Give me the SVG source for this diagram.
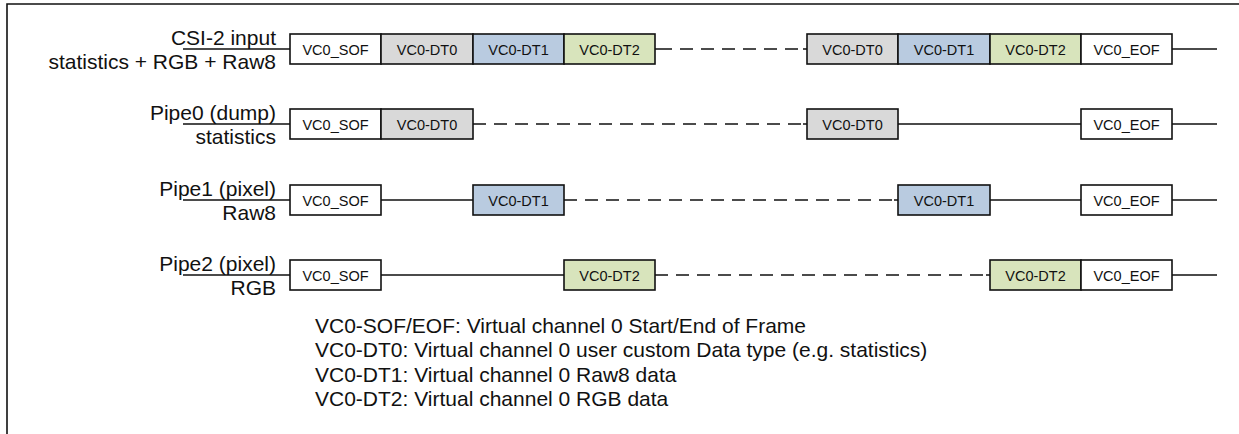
<svg xmlns="http://www.w3.org/2000/svg" width="1239" height="434" viewBox="0 0 1239 434">
<style>
text{font-family:"Liberation Sans",Arial,sans-serif;fill:#111}
.b{stroke:#111;stroke-width:1.6}
.w{fill:#fff}.g{fill:#d9d9d9}.u{fill:#b9cbe0}.n{fill:#d8e4bc}
.t{font-size:14.5px;text-anchor:middle}
.l{font-size:21px;text-anchor:end}
.s{stroke:#111;stroke-width:1.6;fill:none}
.d{stroke:#111;stroke-width:1.6;fill:none;stroke-dasharray:13 8}
.lg{font-size:21px}
</style>
<rect width="1239" height="434" fill="#fff"/>
<path d="M7 434V4H1239" class="s" stroke-width="2"/>
<g id="connectors">
<path class="s" d="M183 49H290M655 49H659M803 49H807M1172 49H1217"/>
<path class="d" d="M659 49H803"/>
<path class="s" d="M183 124H290M803 124H807M898 124H1081M1172 124H1217"/>
<path class="d" d="M473 124H803"/>
<path class="s" d="M183 200H290M381 200H473M894 200H898M990 200H1081M1172 200H1217"/>
<path class="d" d="M564 200H894"/>
<path class="s" d="M183 275H290M381 275H564M986 275H990M1172 275H1217"/>
<path class="d" d="M655 275H986"/>
</g>
<g id="labels">
<text class="l" x="276" y="45">CSI-2 input</text><text class="l" x="276" y="69">statistics + RGB + Raw8</text>
<text class="l" x="276" y="120">Pipe0 (dump)</text><text class="l" x="276" y="144">statistics</text>
<text class="l" x="276" y="196">Pipe1 (pixel)</text><text class="l" x="276" y="220">Raw8</text>
<text class="l" x="276" y="271">Pipe2 (pixel)</text><text class="l" x="276" y="295">RGB</text>
</g>
<g id="row1">
<rect class="b w" x="290" y="34" width="91" height="30"/><text class="t" x="335.5" y="54.5">VC0_SOF</text>
<rect class="b g" x="381" y="34" width="92" height="30"/><text class="t" x="427" y="54.5">VC0-DT0</text>
<rect class="b u" x="473" y="34" width="91" height="30"/><text class="t" x="518.5" y="54.5">VC0-DT1</text>
<rect class="b n" x="564" y="34" width="91" height="30"/><text class="t" x="609.5" y="54.5">VC0-DT2</text>
<rect class="b g" x="807" y="34" width="91" height="30"/><text class="t" x="852.5" y="54.5">VC0-DT0</text>
<rect class="b u" x="898" y="34" width="92" height="30"/><text class="t" x="944" y="54.5">VC0-DT1</text>
<rect class="b n" x="990" y="34" width="91" height="30"/><text class="t" x="1035.5" y="54.5">VC0-DT2</text>
<rect class="b w" x="1081" y="34" width="91" height="30"/><text class="t" x="1126.5" y="54.5">VC0_EOF</text>
</g>
<g id="row2">
<rect class="b w" x="290" y="109" width="91" height="30"/><text class="t" x="335.5" y="129.5">VC0_SOF</text>
<rect class="b g" x="381" y="109" width="92" height="30"/><text class="t" x="427" y="129.5">VC0-DT0</text>
<rect class="b g" x="807" y="109" width="91" height="30"/><text class="t" x="852.5" y="129.5">VC0-DT0</text>
<rect class="b w" x="1081" y="109" width="91" height="30"/><text class="t" x="1126.5" y="129.5">VC0_EOF</text>
</g>
<g id="row3">
<rect class="b w" x="290" y="185" width="91" height="30"/><text class="t" x="335.5" y="205.5">VC0_SOF</text>
<rect class="b u" x="473" y="185" width="91" height="30"/><text class="t" x="518.5" y="205.5">VC0-DT1</text>
<rect class="b u" x="898" y="185" width="92" height="30"/><text class="t" x="944" y="205.5">VC0-DT1</text>
<rect class="b w" x="1081" y="185" width="91" height="30"/><text class="t" x="1126.5" y="205.5">VC0_EOF</text>
</g>
<g id="row4">
<rect class="b w" x="290" y="260" width="91" height="30"/><text class="t" x="335.5" y="280.5">VC0_SOF</text>
<rect class="b n" x="564" y="260" width="91" height="30"/><text class="t" x="609.5" y="280.5">VC0-DT2</text>
<rect class="b n" x="990" y="260" width="91" height="30"/><text class="t" x="1035.5" y="280.5">VC0-DT2</text>
<rect class="b w" x="1081" y="260" width="91" height="30"/><text class="t" x="1126.5" y="280.5">VC0_EOF</text>
</g>
<g id="legend">
<text class="lg" x="315" y="333">VC0-SOF/EOF: Virtual channel 0 Start/End of Frame</text>
<text class="lg" x="315" y="357">VC0-DT0: Virtual channel 0 user custom Data type (e.g. statistics)</text>
<text class="lg" x="315" y="382">VC0-DT1: Virtual channel 0 Raw8 data</text>
<text class="lg" x="315" y="406">VC0-DT2: Virtual channel 0 RGB data</text>
</g>
</svg>
